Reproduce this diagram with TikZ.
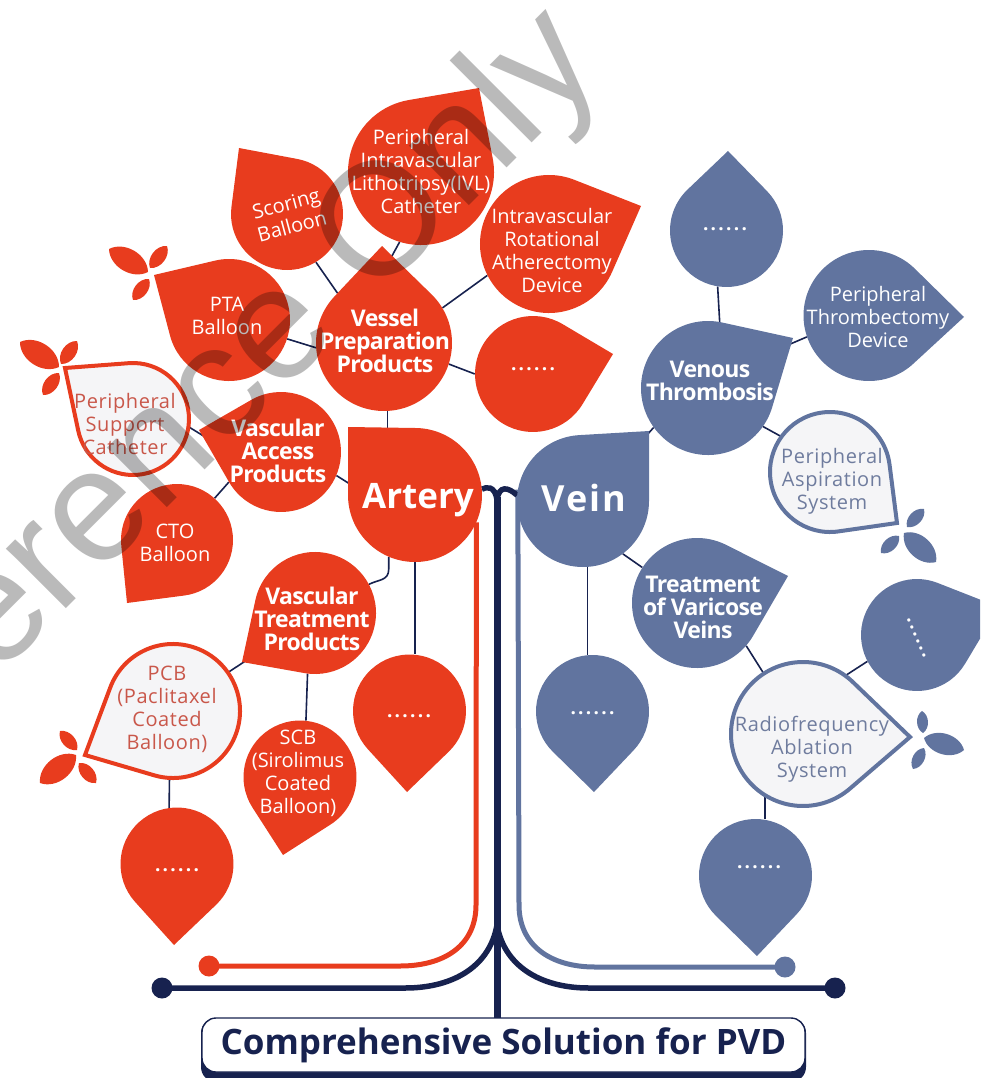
\documentclass[tikz,border=0pt]{standalone}
\usepackage{fontspec}
\setmainfont{Open Sans}
\newfontfamily\tightfont{Open Sans}[LetterSpace=-3]
\newfontfamily\ringfont{Open Sans}[LetterSpace=3]
\newfontfamily\widefont{Open Sans}[LetterSpace=6]
\newfontfamily\dotfont{Open Sans}[LetterSpace=12]
\newfontfamily\markfont{Liberation Sans}
\usetikzlibrary{positioning, backgrounds}
\definecolor{pvdred}{HTML}{E83C1E}
\definecolor{pvdblue}{HTML}{61749F}
\definecolor{pvdnavy}{HTML}{17224F}
\definecolor{pvdpale}{HTML}{F5F5F7}
\definecolor{pvdredtext}{HTML}{C9574A}
\definecolor{pvdbluetext}{HTML}{6F7C9E}
\newcommand{\leaf}[7]{%
  \pgfmathsetmacro{\leafturn}{atan2(#7-#4,#6-#3)}
  \pgfmathsetmacro{\leafgap}{acos(#5/veclen(#6-#3,#7-#4))}
  \pgfmathsetmacro{\leafstart}{\leafturn+\leafgap}
  \pgfmathsetmacro{\leafsweep}{360-2*\leafgap}
  \path[#2] (#3,#4) ++(\leafstart:#5) arc[start angle=\leafstart, delta angle=\leafsweep, radius=#5]
    -- (#6,#7) -- cycle;
  \node[circle, inner sep=0pt, minimum size=#5*2pt] (#1) at (#3,#4) {};
}
\newcommand{\petal}[5]{\fill[#5] (#1,#2) to[bend left=58] (#3,#4) to[bend left=58] (#1,#2) -- cycle;}
\tikzset{
  redleaf/.style={fill=pvdred},
  blueleaf/.style={fill=pvdblue},
  redring/.style={fill=pvdpale, draw=pvdred, line width=4pt},
  bluering/.style={fill=pvdpale, draw=pvdblue, line width=4pt},
  thintext/.style={font=\fontsize{20}{23}\selectfont, align=center, text=white, inner sep=0pt},
  ringtext/.style={font=\ringfont\fontsize{20}{23}\selectfont, align=center, inner sep=0pt},
  boldtext/.style={font=\tightfont\bfseries\fontsize{23}{23}\selectfont, align=center, text=white, inner sep=0pt},
  dottext/.style={font=\dotfont\bfseries\fontsize{19}{23}\selectfont, text=white, inner sep=0pt},
  stem/.style={line width=1.6pt, draw=pvdnavy},
  trunk/.style={line width=7pt, draw=pvdnavy},
  arm/.style={line width=5.5pt, draw=pvdnavy},
  redbranch/.style={line width=5pt, draw=pvdred},
  bluebranch/.style={line width=5pt, draw=pvdblue},
  enddot/.style={circle, inner sep=0pt, minimum size=21pt},
}
\begin{document}
\begin{tikzpicture}[x=1pt, y=-1pt]
  \clip (0,0) rectangle (980,1078);

  \leaf{ivl}{redleaf}{421}{172}{73}{479}{88}
  \node[thintext] (ivltext) at (421,171) {Peripheral\\Intravascular\\Lithotripsy(IVL)\\Catheter};
  \leaf{scoring}{redleaf}{287}{214}{56}{239}{148}
  \node[thintext, rotate=15] (scoringtext) at (289,215) {Scoring\\Balloon};
  \leaf{pta}{redleaf}{229}{320}{61}{154}{275}
  \node[thintext] (ptatext) at (227,316) {PTA\\Balloon};
  \leaf{rotational}{redleaf}{549}{244}{69}{641}{206}
  \node[thintext] (rotationaltext) at (552,250) {Intravascular\\Rotational\\Atherectomy\\Device};
  \leaf{vesseldots}{redleaf}{533}{374}{58}{613}{354}
  \node[dottext] (vesseldotstext) at (533,369) {......};
  \leaf{vessel}{redleaf}{384}{343}{68}{382}{246}
  \node[boldtext] (vesseltext) at (385,341) {Vessel\\Preparation\\Products};
  \leaf{access}{redleaf}{281}{452}{60}{199}{430}
  \node[boldtext] (accesstext) at (278,451) {Vascular\\Access\\Products};
  \leaf{support}{redring}{133}{419}{56}{65}{368}
  \node[ringtext, text=pvdredtext] (supporttext) at (125,424) {Peripheral\\Support\\Catheter};
  \leaf{cto}{redleaf}{177}{540}{56}{127}{603}
  \node[thintext] (ctotext) at (175,543) {CTO\\Balloon};
  \leaf{artery}{redleaf}{415}{495}{67}{348}{427}
  \node[font=\bfseries\fontsize{35}{36}\selectfont, text=white, inner sep=0pt] (arterytext) at (418,500) {Artery};

  \leaf{treatment}{redleaf}{315}{613}{61}{242}{662}
  \node[boldtext] (treatmenttext) at (312,619) {Vascular\\Treatment\\Products};
  \leaf{pcb}{redring}{173}{711}{67}{85}{755}
  \node[ringtext, text=pvdredtext] (pcbtext) at (167,709) {PCB\\(Paclitaxel\\Coated\\Balloon)};
  \leaf{scb}{redleaf}{300}{777}{56.5}{283}{855}
  \node[thintext] (scbtext) at (298,773) {SCB\\(Sirolimus\\Coated\\Balloon)};
  \leaf{arterydots}{redleaf}{409.5}{711}{56.5}{407}{792}
  \node[dottext] (arterydotstext) at (409,716) {......};
  \leaf{pcbdots}{redleaf}{177}{864}{56.5}{174}{945}
  \node[dottext] (pcbdotstext) at (177,870) {......};

  \leaf{venousdots}{blueleaf}{726.5}{230.5}{56.5}{728}{151}
  \node[dottext] (venousdotstext) at (725,229) {......};
  \leaf{thrombectomy}{blueleaf}{869}{315.5}{65.5}{964}{317}
  \node[thintext] (thrombectomytext) at (878,317) {Peripheral\\Thrombectomy\\Device};
  \leaf{aspiration}{bluering}{830}{472}{60}{897}{523}
  \node[ringtext, text=pvdbluetext] (aspirationtext) at (832,481) {Peripheral\\Aspiration\\System};
  \leaf{venous}{blueleaf}{708}{388}{67}{793}{338}
  \node[boldtext] (venoustext) at (710,381) {Venous\\Thrombosis};
  \leaf{vein}{blueleaf}{583}{501}{66}{649}{431}
  \node[font=\widefont\bfseries\fontsize{36}{36}\selectfont, text=white, inner sep=0pt] (veintext) at (584,498) {Vein};
  \leaf{varicose}{blueleaf}{697}{603}{65}{788}{576}
  \node[boldtext] (varicosetext) at (703,607) {Treatment\\of Varicose\\Veins};
  \leaf{radio}{bluering}{803}{734}{72}{910}{737}
  \node[ringtext, text=pvdbluetext] (radiotext) at (812,749) {Radiofrequency\\Ablation\\System};
  \leaf{radiodots}{blueleaf}{917}{635}{56}{999}{607}
  \node[dottext, rotate=-67] (radiodotstext) at (916.5,638) {......};
  \leaf{veindots}{blueleaf}{592.5}{711.5}{56.5}{594}{792}
  \node[dottext] (veindotstext) at (592.5,713) {......};
  \leaf{lowdots}{blueleaf}{755.5}{875.5}{56.5}{757}{956}
  \node[dottext] (lowdotstext) at (759,867) {......};

  \petal{148}{272}{109}{249}{pvdred}
  \petal{150}{268}{167}{246}{pvdred}
  \petal{149}{279}{133}{300}{pvdred}
  \petal{59}{367}{20}{342}{pvdred}
  \petal{61}{364}{77}{341}{pvdred}
  \petal{59}{373}{43}{395}{pvdred}
  \petal{76}{755}{40}{783}{pvdred}
  \petal{77}{750}{60}{731}{pvdred}
  \petal{79}{763}{96}{783}{pvdred}
  \petal{904}{533}{936}{562}{pvdblue}
  \petal{907}{527}{924}{509}{pvdblue}
  \petal{899}{536}{881}{553}{pvdblue}
  \petal{924}{738}{964}{750}{pvdblue}
  \petal{923}{733}{922}{711}{pvdblue}
  \petal{924}{748}{913}{769}{pvdblue}

  \node[enddot, fill=pvdred] (reddot) at (209,966) {};
  \node[enddot, fill=pvdblue] (bluedot) at (785,967) {};
  \node[enddot, fill=pvdnavy] (navyleft) at (162,988) {};
  \node[enddot, fill=pvdnavy] (navyright) at (835,988) {};
  \fill[pvdnavy, rounded corners=15pt] (201,1018) rectangle (806,1082);
  \node[draw=pvdnavy, fill=white, line width=1.4pt, rounded corners=14pt, minimum width=603pt,
        minimum height=54pt, inner sep=0pt, text=pvdnavy, font=\bfseries\fontsize{35}{36}\selectfont]
        (title) at (503.5,1045) {Comprehensive Solution for PVD};

  \begin{scope}[on background layer]
    \draw[stem] (scoring.-59) -- (vessel.133);
    \draw[stem] (ivl.-107) -- (vessel.92);
    \draw[stem] (pta.-18) -- (vessel.184);
    \draw[stem] (rotational.207) -- (vessel.31);
    \draw[stem] (vesseldots.180) -- (vessel.-18);
    \draw[stem] (vessel.-87) -- (vessel.-87 |- artery.north);
    \draw[stem] (access.-23) -- (artery.170);
    \draw[stem] (support.-8) -- (access.175);
    \draw[stem] (cto.48) -- (access.210);
    \draw[stem] (artery.-113) -- ++(0,12) .. controls ++(0,12) and ++(10,-5) .. (treatment.28);
    \draw[stem] (artery.south) -- (artery.south |- arterydots.north);
    \draw[stem] (pcb.35) -- (treatment.215);
    \draw[stem] (treatment.-97) -- (scb.84);
    \draw[stem] (pcb.-93) -- (pcbdots.98);
    \draw[stem] (vein.45) -- (venous.216);
    \draw[stem] (venous.80) -- (venousdots.-99);
    \draw[stem] (venous.30) -- (thrombectomy.199);
    \draw[stem] (venous.-35) -- (aspiration.144);
    \draw[stem] (vein.-53) -- (varicose.147);
    \draw[stem] (vein.-86) -- (vein.-86 |- veindots.north);
    \draw[stem] (varicose.-41) -- (radio.123);
    \draw[stem] (radio.54) -- (radiodots.208);
    \draw[stem] (radio.-122) -- (radio.-122 |- lowdots.north);
    \draw[redbranch] (artery.-24) -- (476,905) .. controls (476,945) and (445,966) .. (400,966) -- (reddot.center);
    \draw[bluebranch] (vein.170) -- (519,905) .. controls (519,945) and (550,967) .. (595,967) -- (bluedot.center);
    \draw[trunk] (497,497) -- (497,1018);
    \draw[arm] (artery.5) .. controls (486,487) and (495,485) .. (497,500);
    \draw[arm] (vein.175) .. controls (508,487) and (499,485) .. (497,500);
    \draw[arm] (navyleft.center) -- (405,988) .. controls (455,988) and (490,965) .. (497,925);
    \draw[arm] (navyright.center) -- (589,988) .. controls (539,988) and (504,965) .. (497,925);
  \end{scope}

  \node[rotate=45, text=black, opacity=0.27, inner sep=0pt, anchor=base, font=\markfont\fontsize{160}{160}\selectfont]
        (watermark) at (213,462) {Reference Only};
\end{tikzpicture}
\end{document}
